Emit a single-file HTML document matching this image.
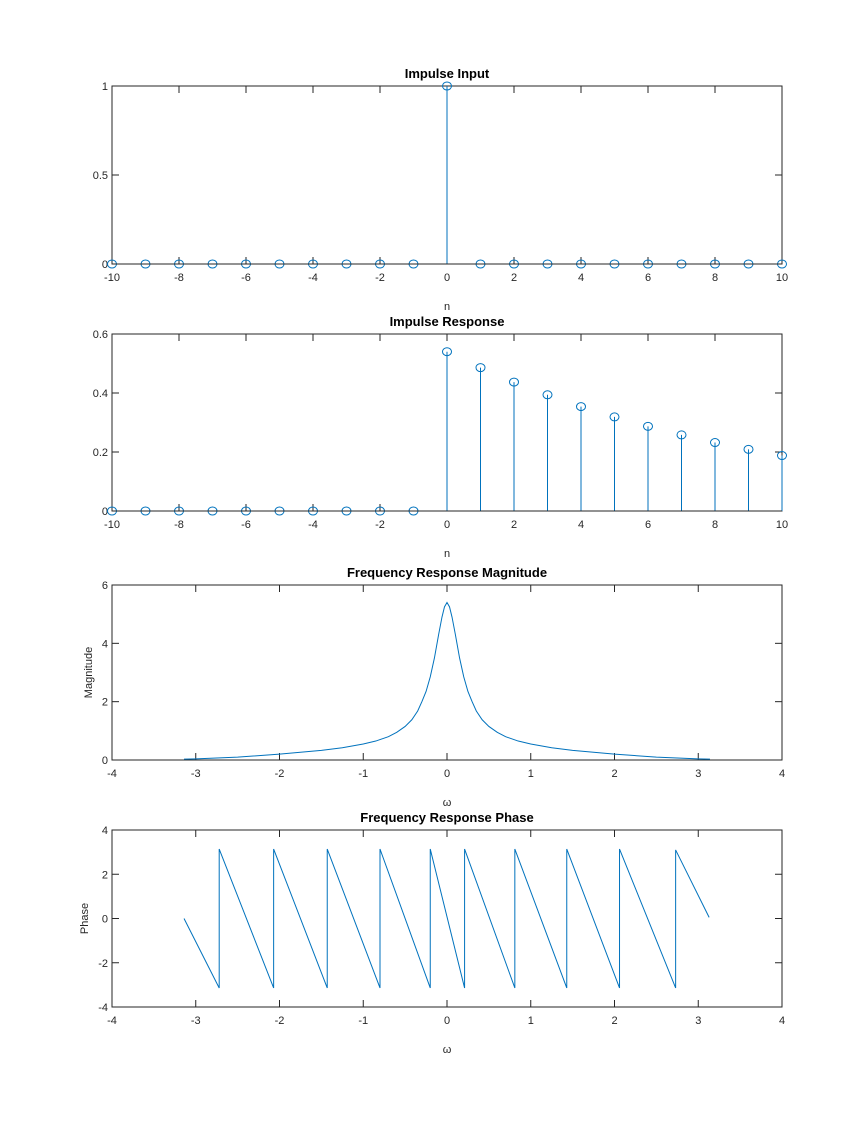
<!DOCTYPE html>
<html><head><meta charset="utf-8"><style>
body{margin:0;background:#fff;}
svg{display:block;font-family:"Liberation Sans","DejaVu Sans",sans-serif;}
</style></head><body>
<svg id="fig" width="864" height="1134" viewBox="0 0 864 1134"></svg>
<script>
const nVals=[-10,-9,-8,-7,-6,-5,-4,-3,-2,-1,0,1,2,3,4,5,6,7,8,9,10];
const impulseVals=[0,0,0,0,0,0,0,0,0,0,1,0,0,0,0,0,0,0,0,0,0];
const responseVals=[0,0,0,0,0,0,0,0,0,0,0.54,0.486,0.437,0.394,0.354,0.319,0.287,0.258,0.232,0.209,0.188];
const magW=[-3.14,-3,-2.5,-2,-1.5,-1.25,-1,-0.85,-0.7,-0.6,-0.5,-0.42,-0.35,-0.3,-0.25,-0.2,-0.15,-0.1,-0.06,-0.03,0,0.03,0.06,0.1,0.15,0.2,0.25,0.3,0.35,0.42,0.5,0.6,0.7,0.85,1,1.25,1.5,2,2.5,3,3.14];
const magVals=[0.03,0.04,0.1,0.2,0.33,0.42,0.55,0.65,0.8,0.95,1.15,1.38,1.68,2.0,2.35,2.85,3.5,4.3,4.9,5.25,5.4,5.25,4.9,4.3,3.5,2.85,2.35,2.0,1.68,1.38,1.15,0.95,0.8,0.65,0.55,0.42,0.33,0.2,0.1,0.04,0.03];
const phaseW=[-3.14,-2.72,-2.72,-2.07,-2.07,-1.43,-1.43,-0.80,-0.80,-0.20,-0.20,0.21,0.21,0.81,0.81,1.43,1.43,2.06,2.06,2.73,2.73,3.13];
const phaseVals=[0,-3.14,3.14,-3.14,3.14,-3.14,3.14,-3.14,3.14,-3.14,3.14,-3.14,3.14,-3.14,3.14,-3.14,3.14,-3.14,3.14,-3.14,3.10,0.05];
const nTicks=[-10,-8,-6,-4,-2,0,2,4,6,8,10];
const wTicks=[-4,-3,-2,-1,0,1,2,3,4];
const NS="http://www.w3.org/2000/svg";
const svg=document.getElementById('fig');
const BLUE="#0072BD";
function el(tag,attrs,parent){const e=document.createElementNS(NS,tag);for(const k in attrs)e.setAttribute(k,attrs[k]);(parent||svg).appendChild(e);return e;}
function txt(s,x,y,attrs,parent){const t=el('text',Object.assign({x:x,y:y,fill:'#262626','font-size':11},attrs),parent);t.textContent=s;return t;}
const L=112,R=782;
function axes(name,top,bot,xmin,xmax,ymin,ymax,xt,yt,ytl,title,xlabel,ylabel){
  const g=el('g',{});
  
  
  const sx=v=>L+(v-xmin)/(xmax-xmin)*(R-L);
  const sy=v=>bot-(v-ymin)/(ymax-ymin)*(bot-top);
  const box=el('rect',{x:L,y:top,width:R-L,height:bot-top,fill:'none',stroke:'#262626','stroke-width':1},g);
  
  
  xt.forEach(v=>{const x=sx(v);
    el('line',{x1:x,y1:bot,x2:x,y2:bot-7,stroke:'#262626'},g);
    el('line',{x1:x,y1:top,x2:x,y2:top+7,stroke:'#262626'},g);
    const t=txt(String(v),x,bot+17,{'text-anchor':'middle'},g);
    
    
  });
  yt.forEach((v,i)=>{const y=sy(v);
    el('line',{x1:L,y1:y,x2:L+7,y2:y,stroke:'#262626'},g);
    el('line',{x1:R,y1:y,x2:R-7,y2:y,stroke:'#262626'},g);
    const t=txt(ytl[i],L-4,y+4,{'text-anchor':'end'},g);
    
    
  });
  const tt=txt(title,(L+R)/2,top-8,{'text-anchor':'middle','font-weight':'bold','font-size':13,fill:'#000'},g);
  
  
  const xl=txt(xlabel,(L+R)/2,bot+46,{'text-anchor':'middle'},g);
  
  
  if(ylabel){const yl=txt(ylabel,0,0,{'text-anchor':'middle',transform:`translate(${name==='phase'?88:92},${(top+bot)/2}) rotate(-90)`},g);
    
    }
  return {g,sx,sy};
}
function stems(a,name,vals){
  nVals.forEach((n,i)=>{
    const x=a.sx(n),y=a.sy(vals[i]),y0=a.sy(0);
    if(vals[i]!==0){const s=el('line',{x1:x,y1:y0,x2:x,y2:y,stroke:BLUE,'stroke-width':1},a.g);
      
      }
    const c=el('ellipse',{cx:x,cy:y,rx:4.5,ry:4,fill:'none',stroke:BLUE,'stroke-width':1},a.g);
    
    
  });
  el('line',{x1:L,y1:a.sy(0),x2:R,y2:a.sy(0),stroke:'#262626','stroke-width':1},a.g);
}
function line(a,name,xs,ys){
  const p=el('polyline',{points:xs.map((w,i)=>a.sx(w)+','+a.sy(ys[i])).join(' '),fill:'none',stroke:BLUE,'stroke-width':1},a.g);
  
  
}
const a1=axes('impulse-input',86,264,-10,10,0,1,nTicks,[0,0.5,1],['0','0.5','1'],'Impulse Input','n',null);
stems(a1,'impulse-input',impulseVals);
const a2=axes('impulse-response',334,511,-10,10,0,0.6,nTicks,[0,0.2,0.4,0.6],['0','0.2','0.4','0.6'],'Impulse Response','n',null);
stems(a2,'impulse-response',responseVals);
const a3=axes('magnitude',585,760,-4,4,0,6,wTicks,[0,2,4,6],['0','2','4','6'],'Frequency Response Magnitude','ω','Magnitude');
line(a3,'magnitude-line',magW,magVals);
const a4=axes('phase',830,1007,-4,4,-4,4,wTicks,[-4,-2,0,2,4],['-4','-2','0','2','4'],'Frequency Response Phase','ω','Phase');
line(a4,'phase-line',phaseW,phaseVals);
</script>
</body></html>
